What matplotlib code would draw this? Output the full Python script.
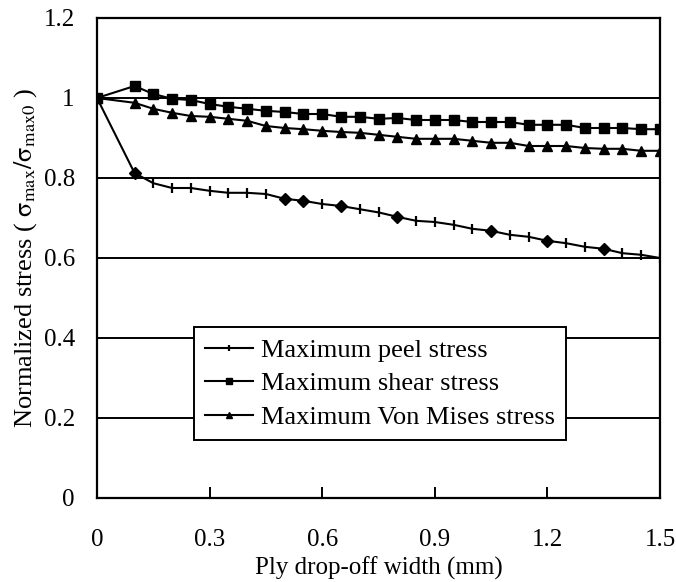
import matplotlib
matplotlib.use('Agg')
import matplotlib.pyplot as plt
import numpy as np

plt.rcParams['font.family'] = ['Liberation Serif', 'DejaVu Serif']
plt.rcParams['mathtext.fontset'] = 'stix'

# ply drop-off width (mm)
width = [0, 0.1, 0.15, 0.2, 0.25, 0.3, 0.35, 0.4, 0.45, 0.5,
         0.55, 0.6, 0.65, 0.7, 0.75, 0.8, 0.85, 0.9, 0.95, 1.0,
         1.05, 1.1, 1.15, 1.2, 1.25, 1.3, 1.35, 1.4, 1.45, 1.5]

peel = [1.0, 0.8125, 0.787, 0.775, 0.775, 0.768, 0.763, 0.763, 0.76, 0.748,
        0.743, 0.735, 0.73, 0.722, 0.714, 0.703, 0.693, 0.69, 0.683, 0.673,
        0.668, 0.658, 0.653, 0.643, 0.637, 0.628, 0.623, 0.612, 0.608, 0.6]
peel_diamond_x = [0.1, 0.5, 0.55, 0.65, 0.8, 1.05, 1.2, 1.35]

shear = [1.0, 1.03, 1.01, 0.998, 0.995, 0.985, 0.978, 0.973, 0.968, 0.965,
         0.96, 0.96, 0.953, 0.953, 0.948, 0.95, 0.945, 0.945, 0.945, 0.94,
         0.94, 0.94, 0.933, 0.933, 0.933, 0.925, 0.925, 0.925, 0.922, 0.922]

mises = [1.0, 0.988, 0.973, 0.963, 0.955, 0.953, 0.948, 0.943, 0.93, 0.925,
         0.922, 0.918, 0.915, 0.913, 0.908, 0.903, 0.898, 0.898, 0.898, 0.893,
         0.888, 0.888, 0.88, 0.88, 0.88, 0.875, 0.873, 0.873, 0.868, 0.868]

xticks = [0, 0.3, 0.6, 0.9, 1.2, 1.5]
xticklabels = ['0', '0.3', '0.6', '0.9', '1.2', '1.5']
yticks = [0, 0.2, 0.4, 0.6, 0.8, 1.0, 1.2]
yticklabels = ['0', '0.2', '0.4', '0.6', '0.8', '1', '1.2']

fig = plt.figure(figsize=(6.76, 5.82), dpi=100)
ax = fig.add_axes([97 / 676, 1 - 498 / 582, 563 / 676, 480 / 582])

# horizontal grid lines
for yv in yticks[1:-1]:
    ax.axhline(yv, color='black', lw=1.4, zorder=1)

ax.plot(width, peel, color='black', lw=1.5, marker='|', ms=7, mew=1.6,
        label='Maximum peel stress', zorder=3)
dx = np.array(width)
dy = np.array(peel)
idx = [int(np.argmin(np.abs(dx - v))) for v in peel_diamond_x]
ax.plot(dx[idx], dy[idx], ls='none', marker='D', ms=6.5, color='black', zorder=3)
ax.plot(width, shear, color='black', lw=1.5, marker='s', ms=7.5,
        label='Maximum shear stress', zorder=3)
ax.plot(width, mises, color='black', lw=1.5, marker='^', ms=7.5,
        label='Maximum Von Mises stress', zorder=3)

ax.set_xlim(0, 1.5)
ax.set_ylim(0, 1.2)
ax.set_xticks(xticks)
ax.set_xticklabels(xticklabels)
ax.set_yticks(yticks)
ax.set_yticklabels(yticklabels)
ax.tick_params(axis='x', direction='in', length=8, width=1.4, labelsize=18, pad=22)
ax.tick_params(axis='y', length=0, labelsize=18, pad=16)
for s in ax.spines.values():
    s.set_linewidth(1.6)

ax.set_xlabel('Ply drop-off width (mm)', fontsize=18, labelpad=4)
ax.set_ylabel(r'Normalized stress ( $\mathrm{\sigma_{max}/\sigma_{max0}}$ )',
              fontsize=19, labelpad=3)

leg = ax.legend(loc='center', bbox_to_anchor=(0.503, 0.2385), fontsize=19,
                frameon=True, fancybox=False, framealpha=1, edgecolor='black',
                handlelength=1.8, handletextpad=0.3, markerscale=0.65,
                labelspacing=0.38, borderpad=0.42, borderaxespad=0)
leg.get_frame().set_linewidth(1.4)
leg.set_zorder(5)

plt.savefig('out.png', dpi=100)
